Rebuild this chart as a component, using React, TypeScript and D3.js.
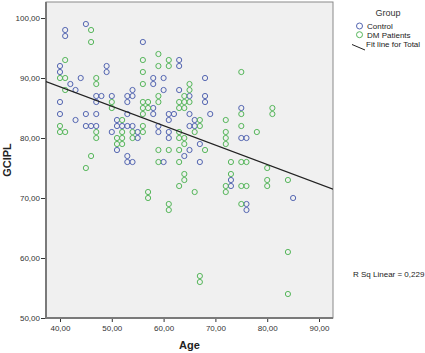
import React, { useEffect, useRef } from 'react';
import * as d3 from 'd3';

// [age, gcipl]
const controlPoints: [number, number][] = [
  [40, 92], [40, 91], [40, 86], [40, 84],
  [41, 98], [41, 97],
  [42, 89], [43, 88], [43, 83], [44, 90],
  [45, 99], [45, 84], [45, 82],
  [46, 82],
  [47, 87], [47, 86], [47, 84], [47, 82],
  [48, 87], [49, 92], [49, 91],
  [50, 87], [50, 81],
  [51, 83], [51, 82], [51, 78],
  [52, 82],
  [53, 87], [53, 86], [53, 84], [53, 82], [53, 77], [53, 76],
  [54, 88], [54, 87], [54, 82], [54, 76],
  [55, 81], [55, 80],
  [56, 96],
  [58, 90], [58, 89], [58, 85], [58, 84],
  [59, 82], [59, 81],
  [60, 90], [60, 88], [60, 76],
  [61, 84], [61, 83], [61, 81], [61, 80],
  [62, 84],
  [63, 93], [63, 92], [63, 88],
  [64, 77],
  [65, 87], [65, 84], [65, 82], [65, 78],
  [66, 83], [66, 82],
  [67, 79], [67, 76],
  [68, 90], [68, 87], [68, 86],
  [69, 84],
  [73, 73], [73, 72],
  [75, 85], [75, 80],
  [76, 80], [76, 69], [76, 68],
  [85, 70],
];

const dmPoints: [number, number][] = [
  [40, 90], [40, 82], [40, 81],
  [41, 93], [41, 90], [41, 88], [41, 81],
  [45, 75],
  [46, 98], [46, 96], [46, 77],
  [47, 90], [47, 89], [47, 81], [47, 80],
  [50, 86], [50, 85],
  [51, 80], [51, 79],
  [52, 83], [52, 81], [52, 80], [52, 79],
  [54, 81], [54, 80],
  [56, 93], [56, 91], [56, 89], [56, 86], [56, 85], [56, 84], [56, 82], [56, 81],
  [57, 86], [57, 85], [57, 71], [57, 70],
  [59, 94], [59, 92], [59, 87], [59, 86], [59, 78], [59, 76],
  [61, 93], [61, 92], [61, 78], [61, 69], [61, 68],
  [63, 86], [63, 85], [63, 81], [63, 80], [63, 78], [63, 76], [63, 72],
  [64, 87], [64, 86], [64, 85], [64, 80], [64, 79], [64, 74], [64, 73],
  [65, 89], [65, 88], [65, 86],
  [66, 81], [66, 71],
  [67, 83], [67, 82], [67, 57], [67, 56],
  [68, 78],
  [72, 83], [72, 81], [72, 80], [72, 79], [72, 72], [72, 71],
  [73, 76], [73, 74],
  [75, 91], [75, 84], [75, 82], [75, 76], [75, 72], [75, 69],
  [76, 76], [76, 72],
  [78, 81],
  [80, 75], [80, 73], [80, 72],
  [81, 85], [81, 84],
  [84, 73], [84, 61], [84, 54],
];

const xTicks = [40, 50, 60, 70, 80, 90];
const yTicks = [50, 60, 70, 80, 90, 100];
const groups = ['Control', 'DM Patients'];
const groupColors = ['#5365b1', '#55b65a'];

// fit line for total (y = a + b*x)
const fitIntercept = 101.5;
const fitSlope = -0.324;
const rSquare = '0,229';

const fmt = (v: number) => v.toFixed(2).replace('.', ',');

const App = () => {
  const svgRef = useRef<SVGSVGElement>(null);

  useEffect(() => {
    const width = 425;
    const height = 353;
    const left = 46, right = 333, top = 2, bottom = 318;

    const svg = d3.select(svgRef.current);
    svg.selectAll('*').remove();
    svg.attr('width', width).attr('height', height)
      .style('font-family', '"Liberation Sans", Arial, sans-serif');

    svg.append('rect').attr('width', width).attr('height', height).attr('fill', '#ffffff');

    const x = d3.scaleLinear().domain([37.3, 92.7]).range([left, right]);
    const y = d3.scaleLinear().domain([50, 102.67]).range([bottom, top]);

    // plot area
    svg.append('rect')
      .attr('x', left).attr('y', top)
      .attr('width', right - left).attr('height', bottom - top)
      .attr('fill', '#f0f0f0')
      .attr('stroke', '#8a8a8a')
      .attr('stroke-width', 1);

    svg.append('clipPath').attr('id', 'plotclip')
      .append('rect')
      .attr('x', left).attr('y', top)
      .attr('width', right - left).attr('height', bottom - top);

    // axes
    const yAxis = svg.append('g')
      .attr('transform', `translate(${left},0)`)
      .call(d3.axisLeft(y).tickValues(yTicks).tickFormat(d => fmt(+d)).tickSize(5).tickPadding(1));
    const xAxis = svg.append('g')
      .attr('transform', `translate(0,${bottom})`)
      .call(d3.axisBottom(x).tickValues(xTicks).tickFormat(d => fmt(+d)).tickSize(4).tickPadding(3));

    [yAxis, xAxis].forEach(a => {
      a.select('.domain').remove();
      a.selectAll('.tick line').attr('stroke', '#333');
      a.selectAll('.tick text')
        .attr('fill', '#333')
        .style('font-size', '8px')
        .style('font-family', '"Liberation Sans", Arial, sans-serif');
    });

    svg.append('line')
      .attr('x1', left).attr('x2', left).attr('y1', top).attr('y2', bottom + 1)
      .attr('stroke', '#7a7a7a').attr('stroke-width', 2);
    svg.append('line')
      .attr('x1', left - 1).attr('x2', right).attr('y1', bottom).attr('y2', bottom)
      .attr('stroke', '#7a7a7a').attr('stroke-width', 2);

    // points
    const plot = svg.append('g').attr('clip-path', 'url(#plotclip)');
    [controlPoints, dmPoints].forEach((pts, i) => {
      plot.append('g')
        .selectAll('circle')
        .data(pts)
        .enter()
        .append('circle')
        .attr('cx', d => x(d[0]))
        .attr('cy', d => y(d[1]))
        .attr('r', 2.6)
        .attr('fill', 'none')
        .attr('stroke', groupColors[i])
        .attr('stroke-width', 1);
    });

    // fit line
    const [x0, x1] = x.domain();
    plot.append('line')
      .attr('x1', x(x0)).attr('y1', y(fitIntercept + fitSlope * x0))
      .attr('x2', x(x1)).attr('y2', y(fitIntercept + fitSlope * x1))
      .attr('stroke', '#222')
      .attr('stroke-width', 1.2);

    // axis titles
    svg.append('text')
      .attr('transform', `translate(11,${(top + bottom) / 2}) rotate(-90)`)
      .attr('text-anchor', 'middle')
      .attr('font-size', 11)
      .attr('font-weight', 'bold')
      .attr('fill', '#222')
      .text('GCIPL');
    svg.append('text')
      .attr('x', (left + right) / 2).attr('y', 349)
      .attr('text-anchor', 'middle')
      .attr('font-size', 11)
      .attr('font-weight', 'bold')
      .attr('fill', '#222')
      .text('Age');

    // legend
    const legend = svg.append('g').attr('font-size', 8).attr('fill', '#222');
    legend.append('text')
      .attr('x', 388).attr('y', 16)
      .attr('text-anchor', 'middle')
      .attr('font-size', 9)
      .attr('fill', '#333')
      .text('Group');
    groups.forEach((g, i) => {
      legend.append('circle')
        .attr('cx', 359.5).attr('cy', 26 + i * 8.7)
        .attr('r', 3)
        .attr('fill', 'none')
        .attr('stroke', groupColors[i])
        .attr('stroke-width', 1);
      legend.append('text')
        .attr('x', 367).attr('y', 29 + i * 8.7)
        .attr('fill', '#222')
        .text(g);
    });
    legend.append('line')
      .attr('x1', 352).attr('y1', 44.5).attr('x2', 365).attr('y2', 50)
      .attr('stroke', '#222').attr('stroke-width', 1);
    legend.append('text')
      .attr('x', 366).attr('y', 46.5)
      .attr('fill', '#222')
      .text('Fit line for Total');

    svg.append('text')
      .attr('x', 353).attr('y', 276.5)
      .attr('font-size', 8)
      .attr('fill', '#222')
      .text(`R Sq Linear = ${rSquare}`);
  }, []);

  return (
    <svg ref={svgRef} style={{ position: 'absolute', left: 0, top: 0, display: 'block' }} />
  );
};

export default App;
